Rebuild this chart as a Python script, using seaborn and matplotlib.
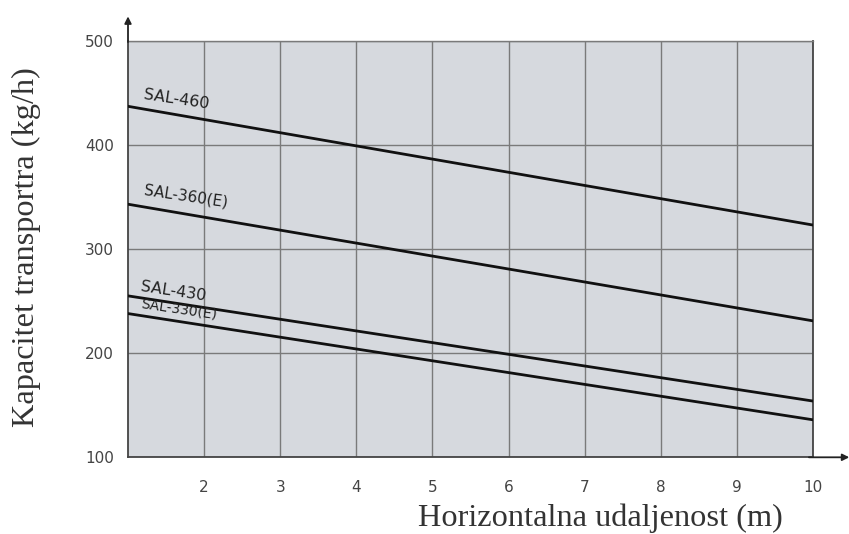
import numpy as np
import pandas as pd
import matplotlib
matplotlib.use("Agg")
import matplotlib.pyplot as plt
import seaborn as sns

# (straight lines, end points at 1 m and 10 m)
distance = [1, 10]
sal_460 = [437, 323]
sal_360e = [343, 231]
sal_430 = [255, 154]
sal_330e = [238, 136]

series_names = ["SAL-460", "SAL-360(E)", "SAL-430", "SAL-330(E)"]
series_values = [sal_460, sal_360e, sal_430, sal_330e]

# label anchor points (x, y) and sizes
label_pos = [(1.19, 441), (1.20, 349), (1.15, 257), (1.15, 241)]
label_size = [11.5, 11, 11.5, 10]

x_ticks = [2, 3, 4, 5, 6, 7, 8, 9, 10]
y_ticks = [100, 200, 300, 400, 500]

rows = []
for name, vals in zip(series_names, series_values):
    for x, y in zip(distance, vals):
        rows.append({"series": name, "distance": x, "capacity": y})
df = pd.DataFrame(rows)

sns.set_style("white")
plt.rcParams["font.family"] = ["DejaVu Sans"]

fig = plt.figure(figsize=(8.49, 5.34), dpi=100)
ax = fig.add_axes([128 / 849, 1 - 457.3 / 534, 685 / 849, 416.6 / 534])
ax.set_facecolor("#d6d9de")

sns.lineplot(data=df, x="distance", y="capacity", hue="series",
             palette=["#111111"] * 4, linewidth=2.0, legend=False, ax=ax,
             zorder=3)

ax.set_xlim(1, 10)
ax.set_ylim(100, 500)
ax.set_xticks(x_ticks)
ax.set_yticks(y_ticks)
ax.grid(True, color="#7a7a7a", linewidth=1.0)
ax.tick_params(axis="both", length=0, labelsize=11, colors="#444444")
ax.tick_params(axis="y", pad=10)
ax.tick_params(axis="x", pad=16)
ax.set_xlabel("")
ax.set_ylabel("")

ax.spines["top"].set_color("#7a7a7a")
ax.spines["top"].set_linewidth(1.0)
for side in ["left", "bottom", "right"]:
    ax.spines[side].set_color("#444444")
    ax.spines[side].set_linewidth(1.3)

for name, (lx, ly), fs in zip(series_names, label_pos, label_size):
    ax.text(lx, ly, name, fontsize=fs, color="#222222", rotation=-8.5,
            rotation_mode="anchor", ha="left", va="bottom", zorder=4)

# axis arrows
ax.annotate("", xy=(1.057, 0), xytext=(0.99, 0), xycoords="axes fraction",
            arrowprops=dict(arrowstyle="-|>", color="#222222", lw=1.3,
                            mutation_scale=10), annotation_clip=False)
ax.annotate("", xy=(0, 1.065), xytext=(0, 0.99), xycoords="axes fraction",
            arrowprops=dict(arrowstyle="-|>", color="#222222", lw=1.3,
                            mutation_scale=10), annotation_clip=False)

fig.text(600 / 849, 1 - 518 / 534, "Horizontalna udaljenost (m)",
         fontsize=23.3, family="Liberation Serif", color="#333333",
         ha="center", va="center")
fig.text(26 / 849, 1 - 247 / 534, "Kapacitet transportra (kg/h)",
         fontsize=23.3, family="Liberation Serif", color="#333333",
         ha="center", va="center", rotation=90)

fig.savefig("out.png", dpi=100, facecolor="white")
